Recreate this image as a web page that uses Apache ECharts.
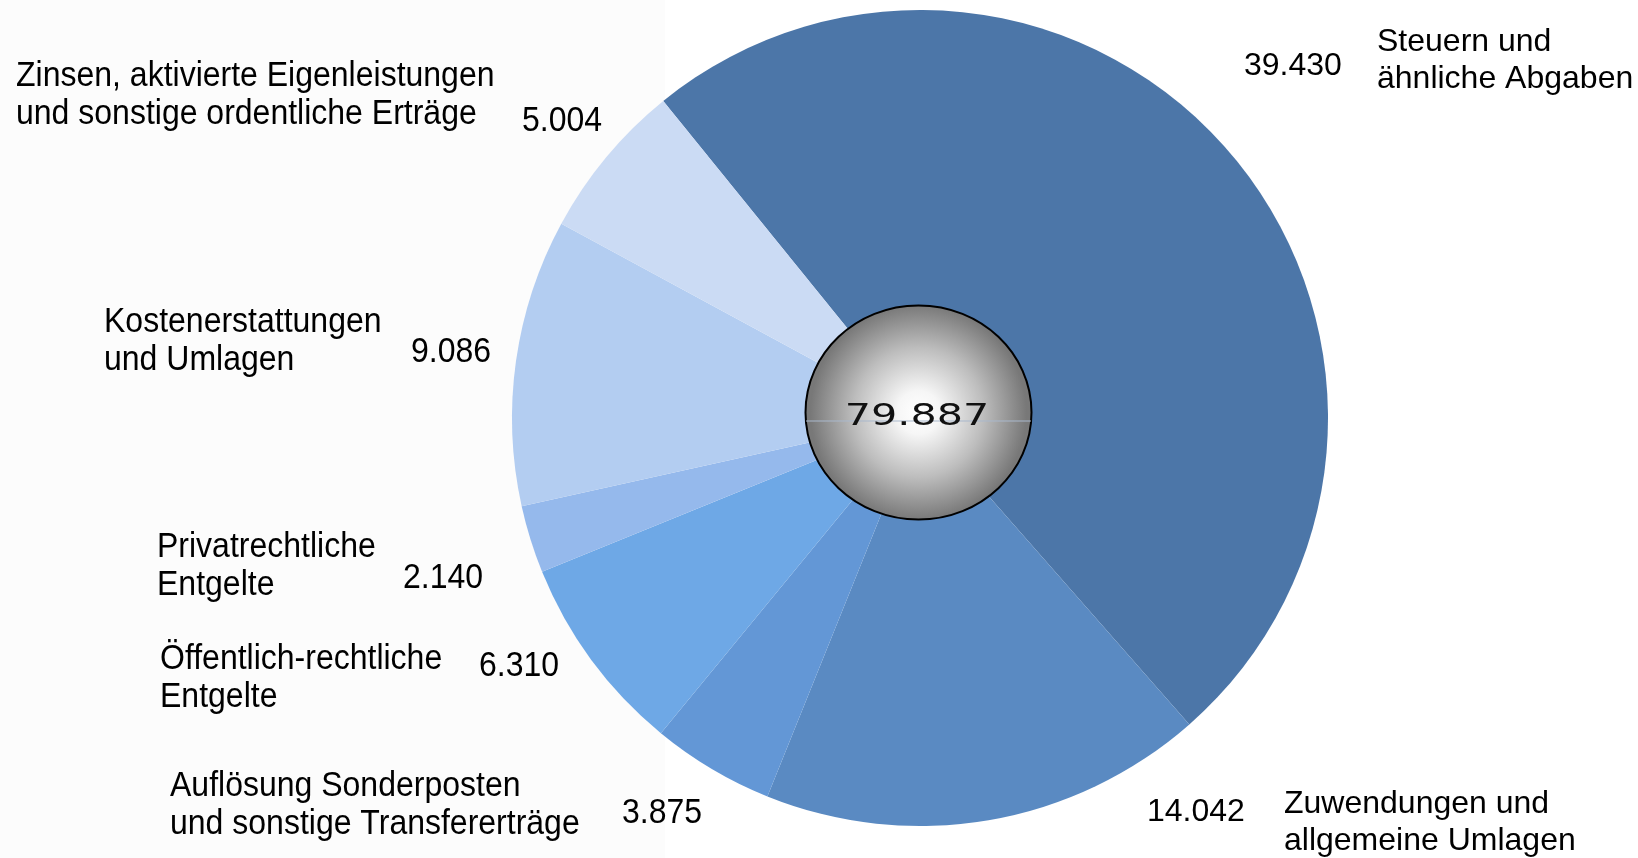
<!DOCTYPE html>
<html>
<head>
<meta charset="utf-8">
<script src="https://cdn.jsdelivr.net/npm/echarts@6/dist/echarts.min.js"></script>
<style>
html,body{margin:0;padding:0;background:#fff;}
#chart{width:1638px;height:858px;}
</style>
</head>
<body>
<div id="chart"></div>
<script>
// ---- data ----
const categories = [
  'Steuern und\nähnliche Abgaben',
  'Zuwendungen und\nallgemeine Umlagen',
  'Auflösung Sonderposten\nund sonstige Transfererträge',
  'Öffentlich-rechtliche\nEntgelte',
  'Privatrechtliche\nEntgelte',
  'Kostenerstattungen\nund Umlagen',
  'Zinsen, aktivierte Eigenleistungen\nund sonstige ordentliche Erträge'
];
const values = [39430, 14042, 3875, 6310, 2140, 9086, 5004];
const colors = ['#4c76a8', '#5a8ac2', '#6397d6', '#6ea8e6', '#95b9ec', '#b3cdf1', '#cbdbf4'];

// ---- label layout (positions only) ----
const nameLayout = [
  {x: 1377, y: 61, left: false},
  {x: 1284, y: 823, left: false},
  {x: 170, y: 805, left: true},
  {x: 160, y: 678, left: true},
  {x: 157, y: 566, left: true},
  {x: 104, y: 341, left: true},
  {x: 16, y: 95, left: true}
];
const valueLayout = [
  {x: 1244, y: 66},
  {x: 1147, y: 812},
  {x: 622, y: 813},
  {x: 479, y: 666},
  {x: 403, y: 578},
  {x: 411, y: 352},
  {x: 522, y: 121}
];

function fmt(v) {
  return String(v).replace(/\B(?=(\d{3})+(?!\d))/g, '.');
}
const total = values.reduce((a, b) => a + b, 0);

const chart = echarts.init(document.getElementById('chart'), null, {renderer: 'canvas'});

const FONT = '32px "Liberation Sans", Arial, sans-serif';
const SY = 1.12;
const graphics = [
  {type: 'rect', z: -10, silent: true, shape: {x: 0, y: 0, width: 665, height: 858}, style: {fill: '#fcfcfc'}}
];
categories.forEach((c, i) => {
  const isLeft = nameLayout[i].left;
  graphics.push({
    type: 'text', z: 50,
    x: nameLayout[i].x, y: nameLayout[i].y, scaleY: isLeft ? SY : 1,
    style: {text: c, font: FONT, fill: '#000',
      textAlign: 'left', textVerticalAlign: 'middle', lineHeight: isLeft ? 34 : 37}
  });
  graphics.push({
    type: 'text', z: 50,
    x: valueLayout[i].x, y: valueLayout[i].y, scaleY: isLeft ? SY : 1,
    style: {text: fmt(values[i]), font: FONT, fill: '#000',
      textAlign: 'left', textVerticalAlign: 'middle'}
  });
});
// center disc
graphics.push({
  type: 'ellipse', z: 100,
  shape: {cx: 918.5, cy: 412.5, rx: 113, ry: 107},
  style: {
    fill: {type: 'radial', x: 0.5, y: 0.5, r: 0.5, colorStops: [
      {offset: 0, color: '#ffffff'},
      {offset: 0.2, color: '#f6f6f6'},
      {offset: 0.6, color: '#bdbdbd'},
      {offset: 1, color: '#787878'}
    ]},
    stroke: '#000', lineWidth: 2
  }
});
graphics.push({
  type: 'line', z: 101,
  shape: {x1: 806, y1: 421, x2: 1031, y2: 421},
  style: {stroke: '#a9b8cc', lineWidth: 1}
});
graphics.push({
  type: 'text', z: 102,
  x: 917, y: 417, scaleX: 1.33,
  style: {text: fmt(total), font: '31px "DejaVu Sans", sans-serif', fill: '#111',
    textAlign: 'center', textVerticalAlign: 'middle'}
});

chart.setOption({
  animation: false,
  backgroundColor: '#ffffff',
  series: [{
    type: 'pie',
    center: [920, 418],
    radius: [0, 408],
    startAngle: 129,
    clockwise: true,
    avoidLabelOverlap: false,
    label: {show: false},
    labelLine: {show: false},
    itemStyle: {borderWidth: 0},
    emphasis: {disabled: true},
    data: categories.map((c, i) => ({name: c, value: values[i], itemStyle: {color: colors[i]}}))
  }],
  graphic: {elements: graphics}
});
</script>
</body>
</html>
